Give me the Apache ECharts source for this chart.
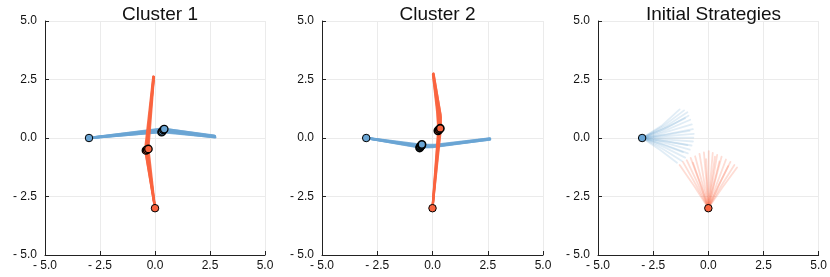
<!DOCTYPE html>
<html><head><meta charset="utf-8">
<script src="https://cdn.jsdelivr.net/npm/echarts@6/dist/echarts.min.js"></script>
<style>html,body{margin:0;padding:0;background:#fff}#c{width:830px;height:277px}</style>
</head><body><div id="c"></div>
<script>
const titles = ['Cluster 1', 'Cluster 2', 'Initial Strategies'];
const tickValues = [-5, -2.5, 0, 2.5, 5];
const startBlue = [-3, 0];
const startRed = [0, -3];

// Cluster 1 trajectories
const c1Blue = [
  [[-3,0],[0.30,0.26],[2.72,0.04]],
  [[-3,0],[0.35,0.30],[2.72,0.05]],
  [[-3,0],[0.40,0.34],[2.72,0.07]],
  [[-3,0],[0.42,0.38],[2.72,0.08]],
  [[-3,0],[0.32,0.40],[2.70,0.10]],
  [[-3,0],[0.45,0.28],[2.74,0.03]]
];
const c1Red = [
  [[0,-3],[-0.30,-0.45],[-0.05,2.60]],
  [[0,-3],[-0.35,-0.50],[-0.06,2.60]],
  [[0,-3],[-0.40,-0.55],[-0.07,2.62]],
  [[0,-3],[-0.45,-0.50],[-0.08,2.62]],
  [[0,-3],[-0.38,-0.40],[-0.05,2.58]],
  [[0,-3],[-0.42,-0.60],[-0.06,2.60]]
];
const c1BlueMarks = [[0.30,0.25],[0.33,0.28],[0.38,0.35],[0.42,0.38]];
const c1RedMarks = [[-0.41,-0.53],[-0.36,-0.50],[-0.30,-0.47]];

// Cluster 2 trajectories
const c2Blue = [
  [[-3,0],[-0.55,-0.38],[0.00,-0.36],[2.58,-0.04]],
  [[-3,0],[-0.50,-0.33],[0.05,-0.33],[2.58,-0.03]],
  [[-3,0],[-0.60,-0.40],[0.00,-0.38],[2.60,-0.05]],
  [[-3,0],[-0.45,-0.30],[0.10,-0.30],[2.60,-0.02]],
  [[-3,0],[-0.50,-0.36],[0.05,-0.35],[2.60,-0.06]]
];
const c2Red = [
  [[0,-3],[0.30,0.30],[0.30,1.00],[0.03,2.73]],
  [[0,-3],[0.35,0.40],[0.36,1.00],[0.04,2.75]],
  [[0,-3],[0.28,0.35],[0.20,1.20],[0.02,2.72]],
  [[0,-3],[0.38,0.42],[0.38,0.90],[0.05,2.75]],
  [[0,-3],[0.25,0.25],[0.24,1.10],[0.03,2.70]]
];
const c2BlueMarks = [[-0.58,-0.42],[-0.55,-0.36],[-0.50,-0.32],[-0.48,-0.28]];
const c2RedMarks = [[0.25,0.31],[0.30,0.36],[0.35,0.41]];

// Initial strategies: start, middle, end
const initBlue = [
  [[-3,0],[-2.12,0.52],[-1.30,1.22]],
  [[-3,0],[-2.02,0.52],[-1.10,1.18]],
  [[-3,0],[-1.95,0.48],[-0.95,1.10]],
  [[-3,0],[-1.92,0.42],[-0.90,0.95]],
  [[-3,0],[-1.88,0.35],[-0.82,0.78]],
  [[-3,0],[-1.85,0.27],[-0.75,0.58]],
  [[-3,0],[-1.82,0.18],[-0.70,0.38]],
  [[-3,0],[-1.80,0.09],[-0.66,0.18]],
  [[-3,0],[-1.81,0.01],[-0.68,0.02]],
  [[-3,0],[-1.82,-0.07],[-0.70,-0.15]],
  [[-3,0],[-1.85,-0.15],[-0.76,-0.32]],
  [[-3,0],[-1.88,-0.23],[-0.84,-0.50]],
  [[-3,0],[-1.92,-0.31],[-0.93,-0.66]],
  [[-3,0],[-1.98,-0.40],[-1.05,-0.84]],
  [[-3,0],[-2.06,-0.47],[-1.20,-0.98]],
  [[-3,0],[-2.18,-0.51],[-1.42,-1.06]],
  [[-3,0],[-1.88,0.14],[-0.85,0.30]],
  [[-3,0],[-1.92,-0.14],[-0.95,-0.30]],
  [[-3,0],[-2.00,0.40],[-1.05,0.85]],
  [[-3,0],[-2.05,-0.29],[-1.15,-0.60]]
];
const initRed = [
  [[0,-3],[-0.62,-2.08],[-1.30,-1.15]],
  [[0,-3],[-0.55,-2.02],[-1.15,-1.02]],
  [[0,-3],[-0.46,-1.98],[-0.98,-0.95]],
  [[0,-3],[-0.38,-1.93],[-0.80,-0.85]],
  [[0,-3],[-0.28,-1.90],[-0.60,-0.78]],
  [[0,-3],[-0.19,-1.85],[-0.40,-0.68]],
  [[0,-3],[-0.09,-1.82],[-0.20,-0.62]],
  [[0,-3],[0.01,-1.79],[0.02,-0.56]],
  [[0,-3],[0.09,-1.83],[0.20,-0.64]],
  [[0,-3],[0.19,-1.87],[0.40,-0.72]],
  [[0,-3],[0.28,-1.91],[0.60,-0.80]],
  [[0,-3],[0.38,-1.97],[0.80,-0.92]],
  [[0,-3],[0.47,-2.02],[1.00,-1.02]],
  [[0,-3],[0.56,-2.08],[1.18,-1.15]],
  [[0,-3],[0.62,-2.14],[1.30,-1.26]],
  [[0,-3],[-0.05,-1.96],[-0.10,-0.90]],
  [[0,-3],[0.24,-2.01],[0.50,-1.00]],
  [[0,-3],[-0.33,-2.03],[-0.70,-1.05]],
  [[0,-3],[0.43,-2.11],[0.90,-1.20]],
  [[0,-3],[0.14,-1.91],[0.30,-0.80]]
];

const BLUE = '#6aa5d4';
const RED = '#f9643f';
const FONT = 'Liberation Sans, Arial, sans-serif';

const gridsPx = [
  {left: 45, top: 21, width: 220, height: 234},
  {left: 322, top: 21, width: 221, height: 234},
  {left: 598, top: 21, width: 221, height: 234}
];

function fmt(v) {
  return v < 0 ? '- ' + Math.abs(v).toFixed(1) : v.toFixed(1);
}
function axisBase(gi) {
  return {
    type: 'value', gridIndex: gi,
    min: tickValues[0], max: tickValues[tickValues.length - 1], interval: 2.5,
    axisLine: {show: true, onZero: false, lineStyle: {color: '#222', width: 1}},
    axisTick: {show: true, inside: true, length: 4, lineStyle: {color: '#222'}},
    splitLine: {show: true, lineStyle: {color: '#ebebeb', width: 1}},
    axisLabel: {color: '#111', fontSize: 12, fontFamily: FONT, formatter: fmt}
  };
}

const xAxes = [], yAxes = [];
for (let i = 0; i < 3; i++) {
  const xa = axisBase(i); xa.axisLabel.margin = 5; xAxes.push(xa);
  const ya = axisBase(i); ya.axisLabel.margin = 8; yAxes.push(ya);
}

const series = [];
function addLines(list, gi, color, width, opacity, z) {
  list.forEach(pts => series.push({
    type: 'line', xAxisIndex: gi, yAxisIndex: gi, data: pts,
    showSymbol: false, symbol: 'none', z: z, silent: true,
    lineStyle: {color: color, width: width, opacity: opacity, cap: 'round', join: 'round'}
  }));
}
function addMarks(pts, gi, color, bw, z) {
  series.push({
    type: 'scatter', xAxisIndex: gi, yAxisIndex: gi, data: pts, symbolSize: 7.5, z: z,
    itemStyle: {color: color, borderColor: '#000', borderWidth: bw, opacity: 1}
  });
}

addLines(c1Blue, 0, BLUE, 2.5, 0.85, 2);
addLines(c1Red, 0, RED, 2.2, 0.9, 3);
addMarks(c1BlueMarks, 0, BLUE, 1.3, 5);
addMarks(c1RedMarks, 0, RED, 1.3, 5);
addMarks([startBlue], 0, BLUE, 1, 6);
addMarks([startRed], 0, RED, 1, 6);

addLines(c2Blue, 1, BLUE, 2.5, 0.85, 2);
addLines(c2Red, 1, RED, 2.2, 0.9, 3);
addMarks(c2BlueMarks, 1, BLUE, 1.6, 5);
addMarks(c2RedMarks, 1, RED, 1.6, 5);
addMarks([startBlue], 1, BLUE, 1, 6);
addMarks([startRed], 1, RED, 1, 6);

addLines(initBlue, 2, BLUE, 1.8, 0.2, 2);
addLines(initRed, 2, RED, 1.8, 0.22, 3);
addMarks([startBlue], 2, BLUE, 1, 6);
addMarks([startRed], 2, RED, 1, 6);

const titleCfg = titles.map((t, i) => ({
  text: t, left: gridsPx[i].left + gridsPx[i].width / 2, top: 0, textAlign: 'center',
  textStyle: {fontSize: 19, fontWeight: 'normal', color: '#111', fontFamily: FONT}
}));

const chart = echarts.init(document.getElementById('c'), null, {renderer: 'canvas'});
chart.setOption({
  animation: false,
  backgroundColor: '#fff',
  title: titleCfg,
  grid: gridsPx.map(g => Object.assign({containLabel: false}, g)),
  xAxis: xAxes,
  yAxis: yAxes,
  series: series
});
</script>
</body></html>
